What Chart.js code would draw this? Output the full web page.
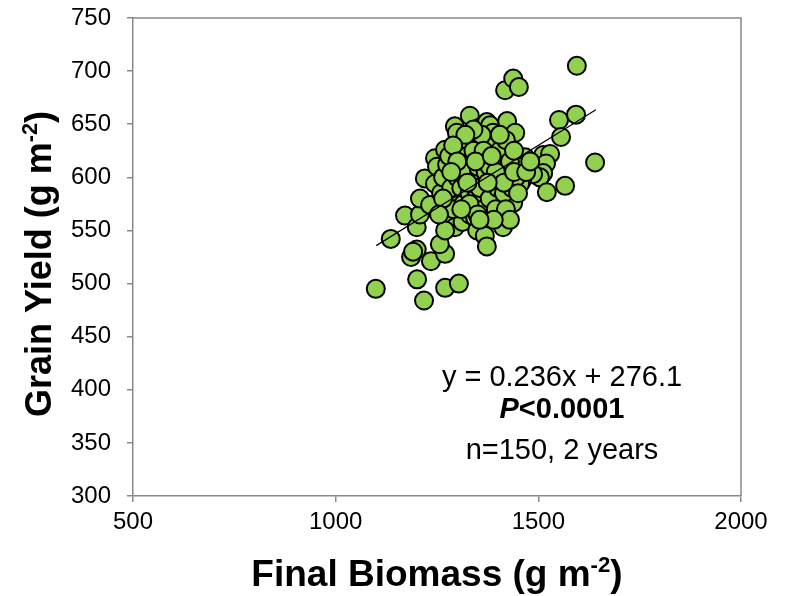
<!DOCTYPE html>
<html>
<head>
<meta charset="utf-8">
<script src="https://cdn.jsdelivr.net/npm/chart.js@4"></script>
<style>
html,body{margin:0;padding:0;background:#fff;}
#wrap{width:786px;height:596px;}
</style>
</head>
<body>
<div id="wrap"><canvas id="c" width="786" height="596"></canvas></div>
<script>
// Final biomass (g m-2)
const biomass = [1099,1136,1171,1186,1200,1201,1218,1200,1208,1208,1235,1270,1257,1270,1304,1245,1270,1294,1313,1270,
1220,1245,1245,1250,1270,1282,1277,1300,1294,1309,1319,1294,1299,1331,1344,1356,1356,1373,1381,1388,
1423,1443,1418,1438,1452,1595,1551,1593,1556,1640,1512,1529,1519,1467,1450,1418,1413,1393,1398,1512,
1504,1487,1460,1566,1521,1455,1393,1378,1351,1340,1363,1405,1438,1401,1356,1331,1344,1368,1361,1349,
1413,1368,1373,1233,1191,
1260,1265,1275,1285,1290,1300,1305,1310,1315,1320,1325,1330,1335,1340,1345,1350,1355,1360,1365,1370,
1375,1380,1385,1390,1395,1400,1405,1410,1415,1420,1425,1430,1435,1440,1445,1420,1430,1390,1380,1360,
1340,1320,1310,1280,1265,1255,1290,1330,1350,1365,1395,1405,1415,1440,1450,1470,1480,1325,1300,1285,
1345,1375,1355,1385,1310];
// Grain yield (g m-2)
const grainYield = [495,542,564,525,532,504,484,553,565,580,521,528,537,496,500,571,561,553,558,550,
599,594,618,610,626,596,583,582,610,622,612,648,642,658,638,629,647,652,649,642,
653,642,682,693,685,705,654,659,638,614,621,622,613,619,610,621,616,619,614,604,
600,603,597,592,586,594,585,590,594,598,599,602,576,569,574,565,562,558,556,550,
553,545,535,574,530,
585,600,612,590,570,600,630,590,575,600,620,585,605,625,580,610,590,615,570,605,
625,580,598,630,570,590,625,605,585,635,600,615,590,625,600,570,560,560,610,640,
645,640,605,620,580,565,630,575,565,625,605,640,595,605,585,605,615,595,615,605,
615,595,560,620,570];
// Regression: y = 0.236x + 276.1
const fitSlope = 0.236;
const fitIntercept = 276.1;
const fitRangeX = [1100, 1642];
const xTicks = [500, 1000, 1500, 2000];
const yTicks = [300, 350, 400, 450, 500, 550, 600, 650, 700, 750];
const annotationLines = ["y = 0.236x + 276.1", "P<0.0001", "n=150, 2 years"];

const points = biomass.map((x, i) => ({x: x, y: grainYield[i]}));
const fitPts = fitRangeX.map(x => ({x: x, y: fitSlope * x + fitIntercept}));

const FONT = "'Liberation Sans', Arial, sans-serif";
const AXIS_COLOR = '#898989';

function drawSupText(ctx, parts, x, y, size, bold, align) {
  const w = parts.map(p => {
    ctx.font = (bold ? 'bold ' : '') + (p.sup ? size * 0.6 : size) + 'px ' + FONT;
    return ctx.measureText(p.t).width;
  });
  const total = w.reduce((a, b) => a + b, 0);
  let cx = align === 'center' ? x - total / 2 : x;
  parts.forEach((p, i) => {
    ctx.font = (bold ? 'bold ' : '') + (p.sup ? size * 0.6 : size) + 'px ' + FONT;
    ctx.textAlign = 'left';
    ctx.textBaseline = 'alphabetic';
    ctx.fillText(p.t, cx, p.sup ? y - size * 0.38 : y);
    cx += w[i];
  });
}

const decor = {
  id: 'decor',
  afterDraw(chart) {
    const ctx = chart.ctx;
    const a = chart.chartArea;
    ctx.save();
    ctx.strokeStyle = AXIS_COLOR;
    ctx.lineWidth = 1.5;
    ctx.beginPath();
    ctx.moveTo(a.left, a.top);
    ctx.lineTo(a.right, a.top);
    ctx.lineTo(a.right, a.bottom);
    ctx.stroke();
    ctx.fillStyle = '#000';
    drawSupText(ctx, [{t: 'Final Biomass (g m'}, {t: '-2', sup: true}, {t: ')'}], 437, 586, 37, true, 'center');
    ctx.save();
    ctx.translate(51, 264);
    ctx.rotate(-Math.PI / 2);
    drawSupText(ctx, [{t: 'Grain Yield (g m'}, {t: '-2', sup: true}, {t: ')'}], 0, 0, 36, true, 'center');
    ctx.restore();
    const cx = 562;
    const fs = 29;
    ctx.textAlign = 'center';
    ctx.textBaseline = 'middle';
    ctx.font = fs + 'px ' + FONT;
    ctx.fillText(annotationLines[0], cx, 378);
    ctx.font = 'bold italic ' + fs + 'px ' + FONT;
    const wp = ctx.measureText('P').width;
    ctx.font = 'bold ' + fs + 'px ' + FONT;
    const rest = annotationLines[1].slice(1);
    const wr = ctx.measureText(rest).width;
    const sx = cx - (wp + wr) / 2;
    ctx.textAlign = 'left';
    ctx.font = 'bold italic ' + fs + 'px ' + FONT;
    ctx.fillText('P', sx, 410);
    ctx.font = 'bold ' + fs + 'px ' + FONT;
    ctx.fillText(rest, sx + wp, 410);
    ctx.textAlign = 'center';
    ctx.font = fs + 'px ' + FONT;
    ctx.fillText(annotationLines[2], cx, 451);
    ctx.restore();
  }
};

function zeroPad(s) { s.paddingTop = 0; s.paddingBottom = 0; s.paddingLeft = 0; s.paddingRight = 0; }

new Chart(document.getElementById('c'), {
  type: 'scatter',
  data: {
    datasets: [
      {
        label: 'data',
        data: points,
        pointRadius: 9,
        pointHoverRadius: 9,
        pointBackgroundColor: '#92D050',
        pointBorderColor: '#000',
        pointBorderWidth: 2,
        order: 2
      },
      {
        label: 'fit',
        type: 'line',
        data: fitPts,
        borderColor: '#000',
        borderWidth: 1.2,
        pointRadius: 0,
        fill: false,
        order: 1
      }
    ]
  },
  options: {
    responsive: false,
    animation: false,
    events: [],
    layout: {padding: {top: 18, right: 45, left: 0, bottom: 0}},
    plugins: {legend: {display: false}, tooltip: {enabled: false}},
    scales: {
      x: {
        type: 'linear', min: 500, max: 2000,
        afterBuildTicks: s => { s.ticks = xTicks.map(v => ({value: v})); },
        afterFit: s => { s.height = 100; zeroPad(s); },
        grid: {drawOnChartArea: false, drawTicks: true, tickLength: 6, color: AXIS_COLOR, lineWidth: 1.5},
        border: {color: AXIS_COLOR, width: 1.5},
        ticks: {font: {family: FONT, size: 24}, color: '#000', padding: 6, maxRotation: 0, callback: v => String(v)}
      },
      y: {
        type: 'linear', min: 300, max: 750,
        afterBuildTicks: s => { s.ticks = yTicks.map(v => ({value: v})); },
        afterFit: s => { s.width = 133; zeroPad(s); },
        grid: {drawOnChartArea: false, drawTicks: true, tickLength: 6, color: AXIS_COLOR, lineWidth: 1.5},
        border: {color: AXIS_COLOR, width: 1.5},
        ticks: {font: {family: FONT, size: 24}, color: '#000', padding: 16, callback: v => String(v)}
      }
    }
  },
  plugins: [decor]
});
</script>
</body>
</html>
